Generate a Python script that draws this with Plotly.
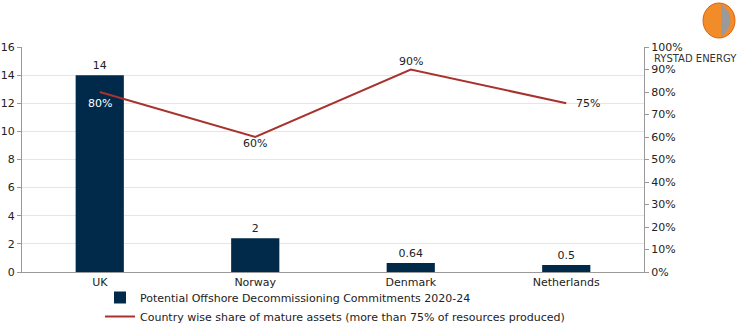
import plotly.graph_objects as go

countries = ["UK", "Norway", "Denmark", "Netherlands"]
commitments = [14, 2.4, 0.64, 0.5]
commit_labels = ["14", "2", "0.64", "0.5"]
mature_share = [0.80, 0.60, 0.90, 0.75]
share_labels = ["80%", "60%", "90%", "75%"]

FONT = "DejaVu Sans"
L, R, T, B = 22, 94, 47, 53
W, H = 738, 325
pw, ph = W - L - R, H - T - B

fig = go.Figure()
fig.add_trace(go.Bar(
    x=countries, y=commitments, name="Potential Offshore Decommissioning Commitments 2020-24",
    marker=dict(color="#012a4a", line=dict(width=0)),
    text=commit_labels, textposition="outside", cliponaxis=False,
    textfont=dict(size=11, color="#222222", family=FONT), width=0.31,
))
fig.add_trace(go.Scatter(
    x=countries, y=mature_share, yaxis="y2", mode="lines",
    name="Country wise share of mature assets (more than 75% of resources produced)",
    line=dict(color="#a8322d", width=2),
))

# line labels (offsets in pixels relative to each point)
label_offsets = [(0, -11), (0, -6), (0, 8), (22, 0)]
label_colors = ["#ffffff", "#222222", "#222222", "#222222"]
for c, v, t, (dx, dy), col in zip(countries, mature_share, share_labels, label_offsets, label_colors):
    fig.add_annotation(x=c, y=v, xref="x", yref="y2", text=t, showarrow=False,
                       xshift=dx, yshift=dy, font=dict(size=11, color=col, family=FONT))

fig.update_layout(
    width=W, height=H, margin=dict(l=L, r=R, t=T, b=B, autoexpand=False),
    paper_bgcolor="white", plot_bgcolor="white",
    font=dict(family=FONT, size=11, color="#222222"),
    xaxis=dict(showline=True, linecolor="#999999", linewidth=1, ticks="", tickfont=dict(size=11),
               range=[-0.5, 3.5]),
    yaxis=dict(range=[0, 16], dtick=2, showgrid=True, gridcolor="#e6e6e6", gridwidth=1,
               showline=True, linecolor="#999999", ticks="outside", ticklen=4, tickcolor="#999999",
               zeroline=False, tickfont=dict(size=11)),
    yaxis2=dict(range=[0, 1], dtick=0.1, tickformat=".0%", overlaying="y", side="right",
                showgrid=False, showline=True, linecolor="#999999", ticks="outside", ticklen=4,
                tickcolor="#999999", zeroline=False, tickfont=dict(size=11)),
    showlegend=True,
    legend=dict(orientation="v", x=100 / W, xref="container", xanchor="left",
                y=1 - 283 / H, yref="container", yanchor="top",
                font=dict(size=11), bgcolor="rgba(0,0,0,0)", tracegroupgap=4, itemwidth=30),
    bargap=0.5,
)

# logo approximation
def px_x(p): return (p - L) / pw
def px_y(p): return (H - B - p) / ph
fig.add_shape(type="circle", xref="paper", yref="paper",
              x0=px_x(703), x1=px_x(735), y0=px_y(38), y1=px_y(3),
              fillcolor="#f28c28", line=dict(color="#e06010", width=1))
fig.add_shape(type="path", xref="paper", yref="paper",
              path=f"M {px_x(721)},{px_y(3.5)} Q {px_x(740)},{px_y(20)} {px_x(721)},{px_y(37.5)} L {px_x(721)},{px_y(3.5)} Z",
              fillcolor="#9a9a9a", line=dict(width=0))
fig.add_annotation(text="RYSTAD ENERGY", xref="paper", yref="paper", x=px_x(695), y=px_y(58),
                   showarrow=False, font=dict(size=10, color="#333333", family=FONT), xanchor="center", yanchor="middle")

fig.write_html("out.html")
